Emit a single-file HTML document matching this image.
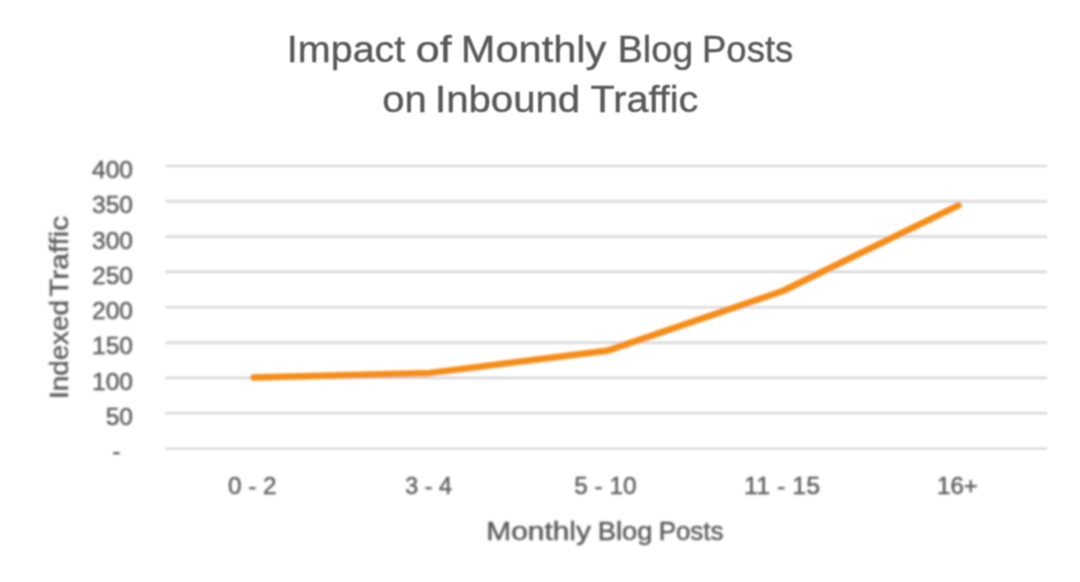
<!DOCTYPE html>
<html>
<head>
<meta charset="utf-8">
<style>
html,body{margin:0;padding:0;background:#fff;}
body{width:1080px;height:582px;overflow:hidden;}
svg{display:block;}
text{font-family:"Liberation Sans", sans-serif;fill:#595959;stroke:#595959;stroke-width:0.4px;}
</style>
</head>
<body>
<svg width="1080" height="582" viewBox="0 0 1080 582">
<defs>
<filter id="blur" x="-5%" y="-5%" width="110%" height="110%"><feGaussianBlur stdDeviation="0.8"/></filter>
<filter id="tblur" x="-5%" y="-5%" width="110%" height="110%"><feConvolveMatrix order="3" kernelMatrix="1 2 1 2 4 2 1 2 1" divisor="16" edgeMode="none"/></filter>
</defs>
<rect width="1080" height="582" fill="#fff"/>
<g filter="url(#blur)">
<!-- gridlines -->
<g stroke="#d2d2d2" stroke-width="2.2">
<line x1="165.5" y1="166.00" x2="1047" y2="166.00"/>
<line x1="165.5" y1="201.31" x2="1047" y2="201.31"/>
<line x1="165.5" y1="236.62" x2="1047" y2="236.62"/>
<line x1="165.5" y1="271.93" x2="1047" y2="271.93"/>
<line x1="165.5" y1="307.24" x2="1047" y2="307.24"/>
<line x1="165.5" y1="342.55" x2="1047" y2="342.55"/>
<line x1="165.5" y1="377.86" x2="1047" y2="377.86"/>
<line x1="165.5" y1="413.17" x2="1047" y2="413.17"/>
<line x1="165.5" y1="448.48" x2="1047" y2="448.48"/>
</g>
<!-- data line -->
<polyline points="253.6,377.4 430,372.9 606.8,350.8 782.8,291 958.5,205.3" fill="none" stroke="#f78c17" stroke-width="6.5" stroke-linecap="round" stroke-linejoin="round"/>
</g>
<g filter="url(#tblur)">
<!-- title -->
<g font-size="36.5">
<text x="286.86" y="62.2" textLength="118.43" lengthAdjust="spacingAndGlyphs">Impact</text>
<text x="415.69" y="62.2" textLength="35.95" lengthAdjust="spacingAndGlyphs">of</text>
<text x="460.79" y="62.2" textLength="145.59" lengthAdjust="spacingAndGlyphs">Monthly</text>
<text x="617.7" y="62.2" textLength="75.53" lengthAdjust="spacingAndGlyphs">Blog</text>
<text x="702" y="62.2" textLength="91.31" lengthAdjust="spacingAndGlyphs">Posts</text>
<text x="382.23" y="112.2" textLength="44.37" lengthAdjust="spacingAndGlyphs">on</text>
<text x="434.99" y="112.2" textLength="145.2" lengthAdjust="spacingAndGlyphs">Inbound</text>
<text x="590.63" y="112.2" textLength="107.79" lengthAdjust="spacingAndGlyphs">Traffic</text>
</g>
</g>
<g filter="url(#blur)">
<!-- y tick labels -->
<g font-size="24.6" text-anchor="end">
<text x="133" y="178.2">400</text>
<text x="133" y="213.4">350</text>
<text x="133" y="248.7">300</text>
<text x="133" y="283.9">250</text>
<text x="133" y="319.2">200</text>
<text x="133" y="354.4">150</text>
<text x="133" y="389.7">100</text>
<text x="133" y="424.9">50</text>
<text x="120.45" y="458.75">-</text>
</g>

<!-- y axis title -->
<g transform="rotate(-90)" font-size="26.5">
<text x="-399.07" y="68.4" textLength="99.06" lengthAdjust="spacingAndGlyphs">Indexed</text>
<text x="-296.86" y="68.4" textLength="81.13" lengthAdjust="spacingAndGlyphs">Traffic</text>
</g>

<!-- x tick labels -->
<g font-size="24.7" text-anchor="middle">
<text x="252.25" y="494.1" textLength="48.6" lengthAdjust="spacingAndGlyphs">0 - 2</text>
<text x="428.55" y="494.1" textLength="46.8" lengthAdjust="spacingAndGlyphs">3 - 4</text>
<text x="605.4" y="494.1" textLength="62.3" lengthAdjust="spacingAndGlyphs">5 - 10</text>
<text x="782.1" y="494.1" textLength="76" lengthAdjust="spacingAndGlyphs">11 - 15</text>
<text x="957.4" y="494.1" textLength="40.7" lengthAdjust="spacingAndGlyphs">16+</text>
</g>

<!-- x axis title -->
<g font-size="26.3">
<text x="486.35" y="539.8" textLength="104.51" lengthAdjust="spacingAndGlyphs">Monthly</text>
<text x="597.75" y="539.8" textLength="54.81" lengthAdjust="spacingAndGlyphs">Blog</text>
<text x="658.67" y="539.8" textLength="64.86" lengthAdjust="spacingAndGlyphs">Posts</text>
</g>
</g>
</svg>
</body>
</html>
